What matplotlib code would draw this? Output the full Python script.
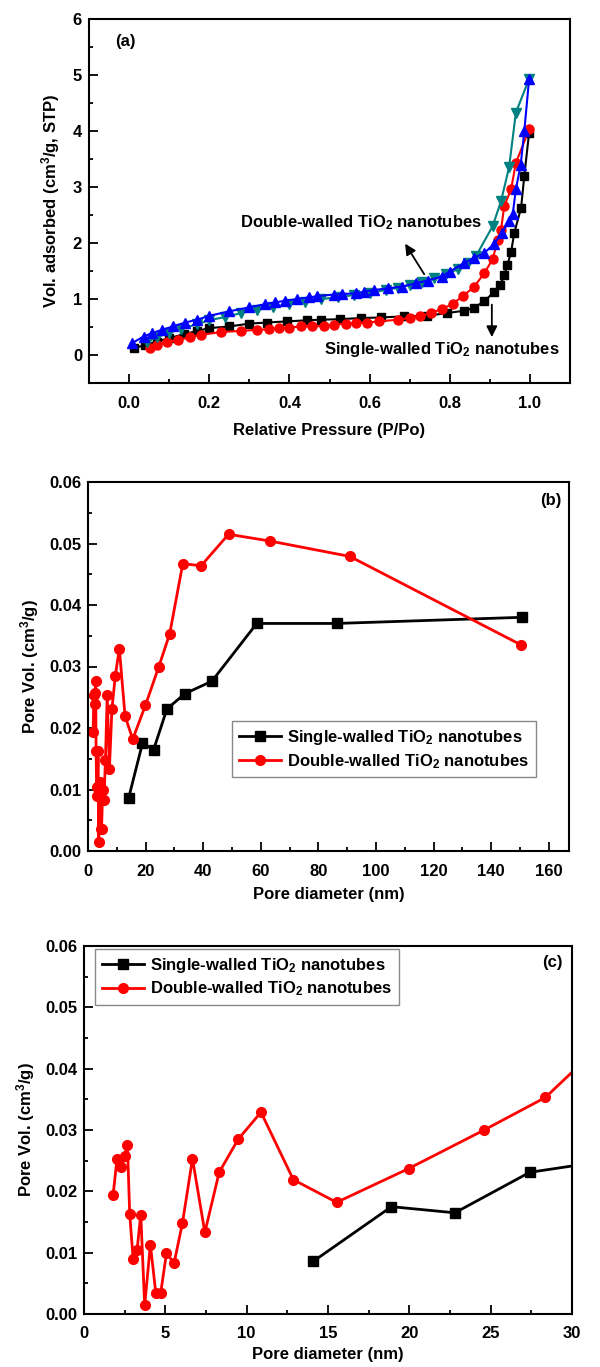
import matplotlib
matplotlib.use("Agg")
import matplotlib.pyplot as plt
from matplotlib.ticker import MultipleLocator, FormatStrFormatter

plt.rcParams['font.family'] = ['Liberation Sans', 'DejaVu Sans']
plt.rcParams['font.weight'] = 'bold'
plt.rcParams['mathtext.fontset'] = 'custom'
plt.rcParams['mathtext.rm'] = 'Liberation Sans:bold'
plt.rcParams['mathtext.it'] = 'Liberation Sans:bold'
plt.rcParams['mathtext.bf'] = 'Liberation Sans:bold'
plt.rcParams['mathtext.default'] = 'rm'

# ---------------- Panel (a): isotherms ----------------
sw_ads_x = [0.0125, 0.04, 0.07, 0.10, 0.136, 0.17, 0.20, 0.25, 0.30, 0.344, 0.394, 0.444, 0.478,
            0.527, 0.578, 0.628, 0.686, 0.744, 0.794, 0.836, 0.86, 0.886, 0.91, 0.926, 0.936,
            0.944, 0.953, 0.961, 0.978, 0.986, 0.998]
sw_ads_y = [0.12, 0.18, 0.24, 0.30, 0.37, 0.43, 0.48, 0.51, 0.56, 0.58, 0.60, 0.62, 0.63,
            0.64, 0.66, 0.67, 0.69, 0.70, 0.75, 0.79, 0.84, 0.96, 1.12, 1.25, 1.42,
            1.61, 1.84, 2.18, 2.63, 3.20, 3.97]

sw_des_x = [0.052, 0.07, 0.094, 0.123, 0.153, 0.18, 0.23, 0.28, 0.32, 0.35, 0.373, 0.40, 0.43,
            0.457, 0.486, 0.51, 0.54, 0.565, 0.594, 0.623, 0.67, 0.70, 0.727, 0.753, 0.78,
            0.807, 0.832, 0.86, 0.886, 0.907, 0.92, 0.928, 0.936, 0.953, 0.965, 0.998]
sw_des_y = [0.12, 0.18, 0.23, 0.27, 0.32, 0.36, 0.41, 0.43, 0.45, 0.46, 0.48, 0.49, 0.51,
            0.51, 0.52, 0.54, 0.56, 0.57, 0.58, 0.60, 0.63, 0.66, 0.70, 0.75, 0.82,
            0.91, 1.05, 1.21, 1.46, 1.71, 2.06, 2.24, 2.66, 2.96, 3.43, 4.03]

dw_ads_x = [0.007, 0.036, 0.057, 0.082, 0.11, 0.14, 0.17, 0.20, 0.25, 0.30, 0.34, 0.365, 0.39,
            0.42, 0.45, 0.47, 0.51, 0.53, 0.565, 0.585, 0.61, 0.645, 0.68, 0.715, 0.745, 0.78,
            0.80, 0.835, 0.86, 0.886, 0.91, 0.93, 0.948, 0.957, 0.965, 0.977, 0.986, 0.998]
dw_ads_y = [0.21, 0.33, 0.39, 0.45, 0.51, 0.58, 0.63, 0.70, 0.78, 0.85, 0.91, 0.94, 0.97,
            1.00, 1.03, 1.05, 1.08, 1.09, 1.10, 1.13, 1.16, 1.19, 1.22, 1.28, 1.33, 1.40,
            1.49, 1.64, 1.73, 1.82, 1.98, 2.18, 2.39, 2.51, 2.96, 3.40, 4.00, 4.93]

dw_des_x = [0.045, 0.07, 0.10, 0.13, 0.17, 0.20, 0.24, 0.28, 0.32, 0.36, 0.40, 0.44, 0.48,
            0.52, 0.56, 0.60, 0.64, 0.67, 0.70, 0.73, 0.76, 0.79, 0.82, 0.845, 0.865,
            0.907, 0.928, 0.948, 0.965, 0.998]
dw_des_y = [0.24, 0.32, 0.40, 0.47, 0.55, 0.62, 0.68, 0.75, 0.81, 0.86, 0.91, 0.95, 1.00,
            1.03, 1.07, 1.11, 1.16, 1.20, 1.25, 1.30, 1.37, 1.44, 1.53, 1.64, 1.76,
            2.30, 2.75, 3.35, 4.33, 4.93]

# ---------------- Panels (b), (c): pore size distribution ----------------
sw_pore_d = [14.1, 18.9, 22.8, 27.4, 33.7, 43.0, 58.6, 86.3, 150.8]
sw_pore_v = [0.0086, 0.0175, 0.0165, 0.0231, 0.0256, 0.0276, 0.0370, 0.0370, 0.0380]

dw_pore_d = [1.79, 2.03, 2.30, 2.50, 2.67, 2.81, 3.02, 3.26, 3.49, 3.73, 4.08, 4.41, 4.72,
             5.07, 5.54, 6.05, 6.67, 7.43, 8.31, 9.48, 10.88, 12.87, 15.53, 19.95, 24.6,
             28.36, 32.9, 39.3, 48.8, 63.2, 90.9, 150.4]
dw_pore_v = [0.0194, 0.0253, 0.0239, 0.0257, 0.0276, 0.0163, 0.0090, 0.0104, 0.0162, 0.0014,
             0.0113, 0.0035, 0.0035, 0.0099, 0.0083, 0.0148, 0.0253, 0.0133, 0.0231, 0.0285,
             0.0329, 0.0219, 0.0182, 0.0237, 0.0300, 0.0353, 0.0467, 0.0464, 0.0515, 0.0504,
             0.0479, 0.0335]

sw_label = 'Single-walled TiO$_2$ nanotubes'
dw_label = 'Double-walled TiO$_2$ nanotubes'

FS = 12
TEAL = '#008080'

fig = plt.figure(figsize=(6.0, 13.67), dpi=100)
W, H = 600.0, 1367.0

def add_ax(l, r, t, b):
    return fig.add_axes([l / W, 1 - b / H, (r - l) / W, (b - t) / H])

def style(ax):
    for s in ax.spines.values():
        s.set_linewidth(1.5)
    ax.tick_params(which='both', direction='in', top=False, right=False,
                   labelsize=FS, width=1.3)
    ax.tick_params(axis='x', which='both', pad=9)
    ax.tick_params(axis='y', which='both', pad=5)
    ax.tick_params(which='major', length=6.5)
    ax.tick_params(which='minor', length=3)
    for lab in ax.get_xticklabels() + ax.get_yticklabels():
        lab.set_fontweight('bold')

# Panel a
ax1 = add_ax(89, 570, 19, 383)
ax1.plot(sw_ads_x, sw_ads_y, '-s', color='black', ms=5.5, lw=1.5)
ax1.plot(sw_des_x, sw_des_y, '-o', color='red', ms=6.5, lw=1.5)
ax1.plot(dw_des_x, dw_des_y, '-v', color=TEAL, ms=7, lw=1.5)
ax1.plot(dw_ads_x, dw_ads_y, '-^', color='blue', ms=7, lw=1.5)
ax1.set_xlim(-0.1, 1.1)
ax1.set_ylim(-0.5, 6)
ax1.xaxis.set_major_locator(MultipleLocator(0.2))
ax1.xaxis.set_minor_locator(MultipleLocator(0.1))
ax1.xaxis.set_major_formatter(FormatStrFormatter('%.1f'))
ax1.yaxis.set_major_locator(MultipleLocator(1))
ax1.yaxis.set_minor_locator(MultipleLocator(0.5))
ax1.set_xlabel('Relative Pressure (P/Po)', fontsize=FS, fontweight='bold', labelpad=9)
ax1.set_ylabel('Vol. adsorbed (cm$^3$/g, STP)', fontsize=FS, fontweight='bold', labelpad=8)
ax1.text(0.076, 0.937, '(a)', transform=ax1.transAxes, fontsize=FS, fontweight='bold',
         ha='center', va='center')
ax1.annotate('', xy=(0.685, 2.03), xytext=(0.74, 1.40),
             arrowprops=dict(arrowstyle='-|>', color='black', lw=1.3, mutation_scale=16))
ax1.text(0.578, 2.37, dw_label, fontsize=FS, fontweight='bold', ha='center', va='center')
ax1.annotate('', xy=(0.905, 0.27), xytext=(0.905, 0.95),
             arrowprops=dict(arrowstyle='-|>', color='black', lw=1.3, mutation_scale=16))
ax1.text(0.78, 0.10, sw_label, fontsize=FS, fontweight='bold', ha='center', va='center')
style(ax1)

# Panel b
ax2 = add_ax(88, 569, 482, 851)
ax2.plot(sw_pore_d, sw_pore_v, '-s', color='black', ms=6.5, lw=2, label=sw_label)
ax2.plot(dw_pore_d, dw_pore_v, '-o', color='red', ms=7, lw=2, label=dw_label)
ax2.set_xlim(0, 167)
ax2.set_ylim(0, 0.06)
ax2.xaxis.set_major_locator(MultipleLocator(20))
ax2.xaxis.set_minor_locator(MultipleLocator(10))
ax2.yaxis.set_major_locator(MultipleLocator(0.01))
ax2.yaxis.set_minor_locator(MultipleLocator(0.005))
ax2.yaxis.set_major_formatter(FormatStrFormatter('%.2f'))
ax2.set_xlabel('Pore diameter (nm)', fontsize=FS, fontweight='bold', labelpad=6)
ax2.set_ylabel('Pore Vol. (cm$^3$/g)', fontsize=FS, fontweight='bold', labelpad=6)
ax2.text(0.985, 0.951, '(b)', transform=ax2.transAxes, fontsize=FS, fontweight='bold',
         ha='right', va='center')
leg2 = ax2.legend(loc='lower left', bbox_to_anchor=(0.30, 0.20), borderaxespad=0,
                  fancybox=False, edgecolor='#888888', framealpha=1, fontsize=FS,
                  handlelength=2.5, borderpad=0.4, labelspacing=0.3, handletextpad=0.4)
leg2.get_frame().set_linewidth(1.0)
style(ax2)

# Panel c
ax3 = add_ax(84, 572, 946, 1314)
ax3.plot(sw_pore_d, sw_pore_v, '-s', color='black', ms=6.5, lw=2, label=sw_label)
ax3.plot(dw_pore_d, dw_pore_v, '-o', color='red', ms=7, lw=2, label=dw_label)
ax3.set_xlim(0, 30)
ax3.set_ylim(0, 0.06)
ax3.xaxis.set_major_locator(MultipleLocator(5))
ax3.xaxis.set_minor_locator(MultipleLocator(2.5))
ax3.yaxis.set_major_locator(MultipleLocator(0.01))
ax3.yaxis.set_minor_locator(MultipleLocator(0.005))
ax3.yaxis.set_major_formatter(FormatStrFormatter('%.2f'))
ax3.set_xlabel('Pore diameter (nm)', fontsize=FS, fontweight='bold', labelpad=4)
ax3.set_ylabel('Pore Vol. (cm$^3$/g)', fontsize=FS, fontweight='bold', labelpad=6)
ax3.text(0.98, 0.954, '(c)', transform=ax3.transAxes, fontsize=FS, fontweight='bold',
         ha='right', va='center')
leg3 = ax3.legend(loc='upper left', bbox_to_anchor=(0.023, 0.992), borderaxespad=0,
                  fancybox=False, edgecolor='#888888', framealpha=1, fontsize=FS,
                  handlelength=2.5, borderpad=0.4, labelspacing=0.3, handletextpad=0.4)
leg3.get_frame().set_linewidth(1.0)
style(ax3)

fig.savefig('out.png', dpi=100, facecolor='white')
